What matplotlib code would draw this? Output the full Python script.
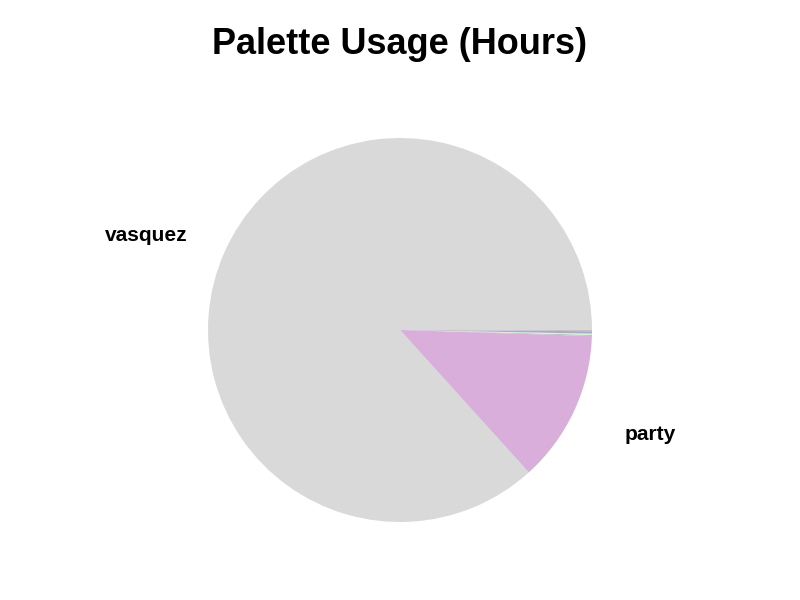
import numpy as np
import matplotlib
matplotlib.use('Agg')
import matplotlib.pyplot as plt

plt.rcParams['font.family'] = ['Liberation Sans', 'DejaVu Sans']

# Hours per palette (small slices are unlabeled in the chart)
palettes = ['vasquez', 'party', 'mint', 'lemon', 'lavender', 'sand']
hours = [2168, 320, 2.5, 2.5, 5, 2.5]
labels = ['vasquez', 'party', '', '', '', '']
colors = ['#d9d9d9', '#daaedb', '#8dd3c7', '#f2eeaa', '#a9a7dc', '#c9c2ad']

fig = plt.figure(figsize=(8, 6), dpi=100)
ax = fig.add_axes([160 / 800, 30 / 600, 480 / 800, 480 / 600])

wedges, texts = ax.pie(hours, labels=labels, colors=colors, startangle=0,
                       labeldistance=1.21,
                       textprops={'fontsize': 15, 'fontweight': 'bold'})

# party label sits a little further out than the big one
w = wedges[1]
mid = np.deg2rad((w.theta1 + w.theta2) / 2)
texts[1].set_position((1.29 * np.cos(mid), 1.29 * np.sin(mid)))

ax.set_xlim(-1.25, 1.25)
ax.set_ylim(-1.25, 1.25)
ax.set_aspect('equal')
ax.axis('off')

fig.suptitle('Palette Usage (Hours)', fontsize=26, fontweight='bold', y=0.955)

plt.savefig('out.png', dpi=100)
plt.close()
